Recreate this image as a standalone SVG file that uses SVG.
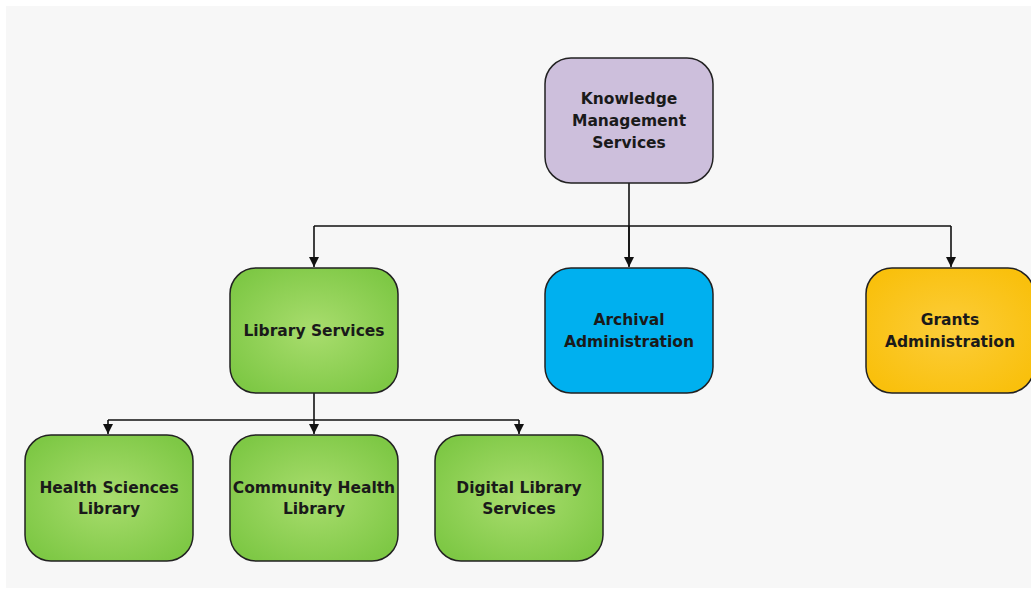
<svg xmlns="http://www.w3.org/2000/svg" width="1031" height="590" viewBox="0 0 1031 590">
<defs>
<radialGradient id="gGreen" cx="50%" cy="50%" r="60%">
<stop offset="0" stop-color="#a9dd6e"/>
<stop offset="1" stop-color="#7ec845"/>
</radialGradient>
<radialGradient id="gYellow" cx="50%" cy="50%" r="60%">
<stop offset="0" stop-color="#fccd3a"/>
<stop offset="1" stop-color="#f9c00c"/>
</radialGradient>
<marker id="arr" viewBox="0 0 10 10" refX="10" refY="5" markerWidth="10" markerHeight="10" markerUnits="userSpaceOnUse" orient="auto">
<path d="M0,0 L10,5 L0,10 Z" fill="#111"/>
</marker>
</defs>
<style>
.box{stroke:#222;stroke-width:1.5}
.t{font-family:"DejaVu Sans",Verdana,sans-serif;font-weight:bold;font-size:15.5px;text-anchor:middle;fill:#1a1a1a}
.c{fill:none;stroke:#111;stroke-width:1.6}
</style>
<rect x="6" y="6" width="1025" height="582" fill="#f7f7f7"/>
<g id="connectors">
<path class="c" d="M629,183 V266"/>
<path class="c" d="M314,226 H951"/>
<path class="c" d="M314,226 V267" marker-end="url(#arr)"/>
<path class="c" d="M629,226 V267" marker-end="url(#arr)"/>
<path class="c" d="M951,226 V267" marker-end="url(#arr)"/>
<path class="c" d="M314,393 V434" marker-end="url(#arr)"/>
<path class="c" d="M108,420 H519"/>
<path class="c" d="M108,420 V434" marker-end="url(#arr)"/>
<path class="c" d="M519,420 V434" marker-end="url(#arr)"/>
</g>
<g id="kms">
<rect class="box" x="545" y="58" width="168" height="125" rx="26" fill="#cdbfdc"/>
<text class="t" x="629" y="104">Knowledge</text>
<text class="t" x="629" y="126">Management</text>
<text class="t" x="629" y="148">Services</text>
</g>
<g id="library">
<rect class="box" x="230" y="268" width="168" height="125" rx="26" fill="url(#gGreen)"/>
<text class="t" x="314" y="336">Library Services</text>
</g>
<g id="archival">
<rect class="box" x="545" y="268" width="168" height="125" rx="26" fill="#00b0ef"/>
<text class="t" x="629" y="325">Archival</text>
<text class="t" x="629" y="347">Administration</text>
</g>
<g id="grants">
<rect class="box" x="866" y="268" width="168" height="125" rx="26" fill="url(#gYellow)"/>
<text class="t" x="950" y="325">Grants</text>
<text class="t" x="950" y="347">Administration</text>
</g>
<g id="health">
<rect class="box" x="25" y="435" width="168" height="126" rx="26" fill="url(#gGreen)"/>
<text class="t" x="109" y="493">Health Sciences</text>
<text class="t" x="109" y="514">Library</text>
</g>
<g id="community">
<rect class="box" x="230" y="435" width="168" height="126" rx="26" fill="url(#gGreen)"/>
<text class="t" x="314" y="493">Community Health</text>
<text class="t" x="314" y="514">Library</text>
</g>
<g id="digital">
<rect class="box" x="435" y="435" width="168" height="126" rx="26" fill="url(#gGreen)"/>
<text class="t" x="519" y="493">Digital Library</text>
<text class="t" x="519" y="514">Services</text>
</g>
</svg>
